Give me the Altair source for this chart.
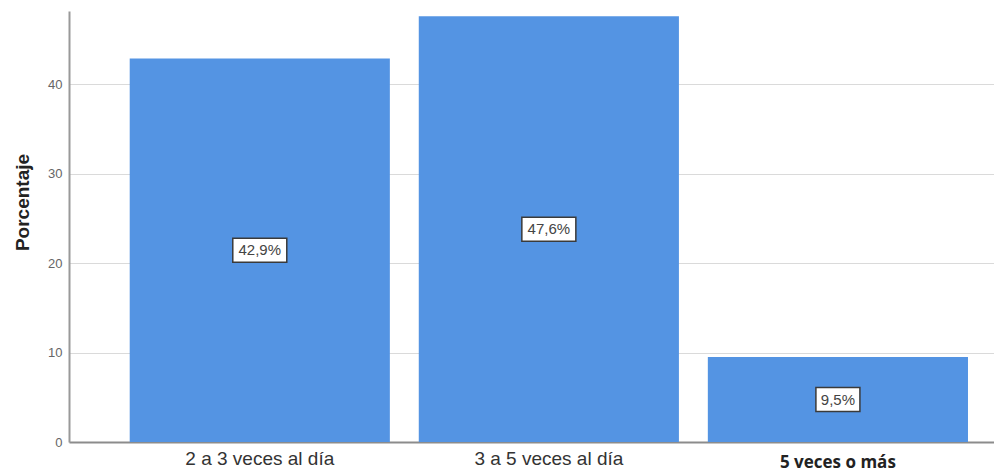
import altair as alt
import pandas as pd

categories = ["2 a 3 veces al día", "3 a 5 veces al día", "5 veces o más"]
values = [42.9, 47.6, 9.5]
value_labels = ["42,9%", "47,6%", "9,5%"]
y_ticks = [0, 10, 20, 30, 40]

df = pd.DataFrame({"cat": categories, "pct": values, "label": value_labels})

last = categories[-1]
x = alt.X(
    "cat:N", sort=categories, title=None,
    scale=alt.Scale(paddingInner=0.1, paddingOuter=0.15, align=0.7),
    axis=alt.Axis(
        labelAngle=0, ticks=False, grid=False,
        domainColor="#8c8c8c", domainWidth=2,
        labelColor={"condition": {"test": f"datum.value === '{last}'", "value": "#222222"}, "value": "#333333"},
        labelFontSize={"condition": {"test": f"datum.value === '{last}'", "value": 17}, "value": 19},
        labelFont={"condition": {"test": f"datum.value === '{last}'", "value": "Open Sans"}, "value": "Liberation Sans"},
        labelFontWeight={"condition": {"test": f"datum.value === '{last}'", "value": "bold"}, "value": "normal"},
        labelPadding={"condition": {"test": f"datum.value === '{last}'", "value": 12}, "value": 7},
    ),
)

y = alt.Y(
    "pct:Q", title="Porcentaje",
    scale=alt.Scale(domain=[0, 48.2], nice=False),
    axis=alt.Axis(
        values=y_ticks, ticks=False, labelFontSize=13, labelColor="#666666",
        labelFont="Liberation Sans", labelPadding=7,
        gridColor="#dadada", gridWidth=1,
        domainColor="#999999", domainWidth=2,
        titleFontSize=19, titleFontWeight="bold", titleColor="#222222",
        titleFont="Liberation Sans", titlePadding=15, titleY=191,
    ),
)

bars = alt.Chart(df).mark_bar(color="#5494e3").encode(x=x, y=y)

base = alt.Chart(df).transform_calculate(
    mid="datum.pct / 2",
    w="length(datum.label) * 10 + 4",
).transform_calculate(
    box="datum.w * datum.w",
    h="24 / datum.w",
).transform_calculate(
    path="'M-1,-' + datum.h + 'L1,-' + datum.h + 'L1,' + datum.h + 'L-1,' + datum.h + 'Z'",
)

boxes = base.mark_point(
    filled=False, fill="white", fillOpacity=1, stroke="#3a3a3a", strokeWidth=1.5, opacity=1,
).encode(
    x=alt.X("cat:N", sort=categories),
    y=alt.Y("mid:Q"),
    size=alt.Size("box:Q", scale=None),
    shape=alt.Shape("path:N", scale=None),
)

texts = base.mark_text(fontSize=15, color="#444444", font="Liberation Sans").encode(
    x=alt.X("cat:N", sort=categories),
    y=alt.Y("mid:Q"),
    text="label:N",
)

chart = alt.layer(bars, boxes, texts).properties(
    width=925, height=431,
    autosize=alt.AutoSizeParams(type="none"),
    padding={"left": 61, "top": 3, "right": 0, "bottom": 31},
).configure_view(stroke=None)

chart.save("out.html", embed_options={"renderer": "svg", "actions": False})
